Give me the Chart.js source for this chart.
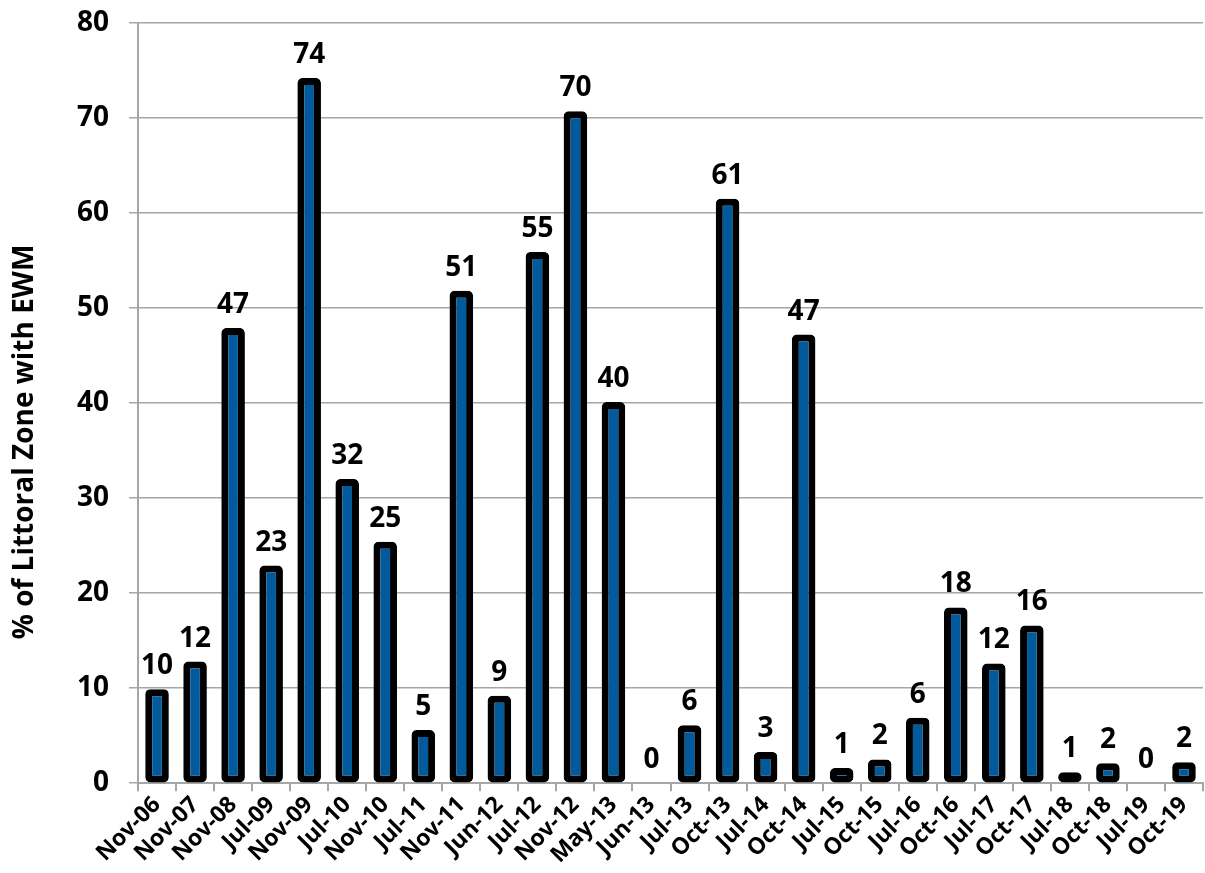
<!DOCTYPE html>
<html>
<head>
<meta charset="utf-8">
<script src="https://cdn.jsdelivr.net/npm/chart.js@4.4.1/dist/chart.umd.min.js"></script>
<style>
  html, body { margin: 0; padding: 0; background: #fff; }
  #wrap { width: 1205px; height: 873px; position: relative; }
</style>
</head>
<body>
<div id="wrap"><canvas id="ewmChart"></canvas></div>
<script>
  'use strict';

  // survey dates
  var surveys = ['Nov-06', 'Nov-07', 'Nov-08', 'Jul-09', 'Nov-09', 'Jul-10', 'Nov-10',
      'Jul-11', 'Nov-11', 'Jun-12', 'Jul-12', 'Nov-12', 'May-13', 'Jun-13', 'Jul-13',
      'Oct-13', 'Jul-14', 'Oct-14', 'Jul-15', 'Oct-15', 'Jul-16', 'Oct-16', 'Jul-17',
      'Oct-17', 'Jul-18', 'Oct-18', 'Jul-19', 'Oct-19'];

  // % of littoral zone with EWM (bar heights)
  var ewmPercent = [9.9, 12.8, 47.9, 22.9, 74.2, 32.0, 25.4, 5.6, 51.8, 9.2, 55.9, 70.7,
      40.1, 0, 6.1, 61.5, 3.3, 47.2, 1.6, 2.5, 6.9, 18.5, 12.6, 16.6, 1.15, 2.1, 0, 2.2];

  // labels printed above the bars
  var barLabels = ['10', '12', '47', '23', '74', '32', '25', '5', '51', '9', '55', '70',
      '40', '0', '6', '61', '3', '47', '1', '2', '6', '18', '12', '16', '1', '2', '0', '2'];

  var yTicks = [0, 10, 20, 30, 40, 50, 60, 70, 80];
  var yTitle = '% of Littoral Zone with EWM';

  var fontFamily = '"Open Sans", "Segoe UI", sans-serif';
  var gridColor = '#a6a6a6';

  // draws the value above every bar
  var barValueLabels = {
      id: 'barValueLabels',
      afterDatasetsDraw: function (chart) {
          var ctx = chart.ctx;
          var meta = chart.getDatasetMeta(0);
          ctx.save();
          ctx.font = 'bold 28px ' + fontFamily;
          ctx.fillStyle = '#000';
          ctx.textAlign = 'center';
          ctx.textBaseline = 'alphabetic';
          meta.data.forEach(function (bar, i) {
              ctx.fillText(barLabels[i], bar.x, bar.y - 15);
          });
          ctx.restore();
      }
  };

  // y title sits a bit below the middle of the axis in the original
  var yTitlePlugin = {
      id: 'yTitlePlugin',
      afterDraw: function (chart) {
          var ctx = chart.ctx;
          var area = chart.chartArea;
          ctx.save();
          ctx.font = 'bold 28px ' + fontFamily;
          ctx.fillStyle = '#000';
          ctx.textAlign = 'center';
          ctx.textBaseline = 'middle';
          ctx.translate(25, (area.top + area.bottom) / 2 + 39);
          ctx.rotate(-Math.PI / 2);
          ctx.fillText(yTitle, 0, 0);
          ctx.restore();
      }
  };

  var ctx = document.getElementById('ewmChart').getContext('2d');
  window.ewmChart = new Chart(ctx, {
      type: 'bar',
      data: {
          labels: surveys,
          datasets: [{
              data: ewmPercent,
              backgroundColor: '#005a9c',
              borderColor: '#000000',
              borderWidth: 7,
              borderRadius: 5,
              borderSkipped: false,
              barPercentage: 0.62,
              categoryPercentage: 1.0
          }]
      },
      options: {
          responsive: true,
          maintainAspectRatio: false,
          animation: false,
          layout: {
              padding: { top: 0, right: 2, left: 57, bottom: 4 }
          },
          plugins: {
              legend: { display: false },
              tooltip: { enabled: false }
          },
          scales: {
              x: {
                  offset: true,
                  border: { color: gridColor, width: 2 },
                  grid: {
                      drawOnChartArea: false,
                      drawTicks: true,
                      tickLength: 8,
                      color: gridColor,
                      lineWidth: 2,
                      offset: true
                  },
                  ticks: {
                      color: '#000',
                      maxRotation: 45,
                      minRotation: 45,
                      autoSkip: false,
                      padding: 0,
                      font: { family: fontFamily, weight: 'bold', size: 23 }
                  }
              },
              y: {
                  min: 0,
                  max: 80,
                  afterBuildTicks: function (axis) {
                      axis.ticks = yTicks.map(function (v) { return { value: v }; });
                  },
                  border: { color: gridColor, width: 2 },
                  grid: {
                      color: gridColor,
                      lineWidth: 1.5,
                      tickLength: 9
                  },
                  ticks: {
                      color: '#000',
                      padding: 20,
                      font: { family: fontFamily, weight: 'bold', size: 28, lineHeight: 0.2 }
                  }
              }
          }
      },
      plugins: [barValueLabels, yTitlePlugin]
  });
</script>
</body>
</html>
